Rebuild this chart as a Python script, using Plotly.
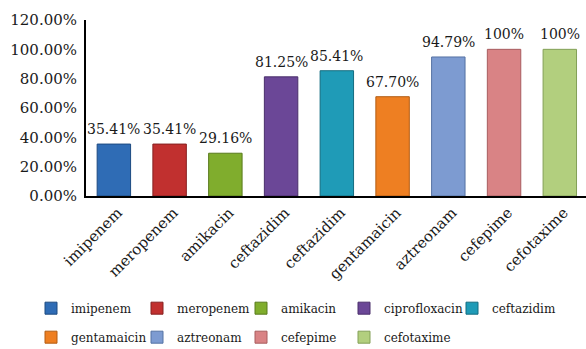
import plotly.graph_objects as go

legend_names = ["imipenem", "meropenem", "amikacin", "ciprofloxacin", "ceftazidim",
                "gentamaicin", "aztreonam", "cefepime", "cefotaxime"]
tick_labels = ["imipenem", "meropenem", "amikacin", "ceftazidim", "ceftazidim",
               "gentamaicin", "aztreonam", "cefepime", "cefotaxime"]
values = [35.41, 35.41, 29.16, 81.25, 85.41, 67.70, 94.79, 100, 100]
value_labels = ["35.41%", "35.41%", "29.16%", "81.25%", "85.41%", "67.70%", "94.79%", "100%", "100%"]
colors = ["#2f6cb5", "#c1302f", "#80ad2d", "#6b4797", "#1f9bb7",
          "#ee7f22", "#7d9bd1", "#d98385", "#b2cf7e"]
edge_colors = ["#1d4a80", "#862020", "#587a1c", "#4a2f6b", "#136c80",
               "#b35c12", "#5572a3", "#a85c5e", "#83a057"]
y_ticks = [0, 20, 40, 60, 80, 100, 120]
legend_col_widths = [61, 59, 58, 63, 60]

positions = list(range(len(values)))
serif = "DejaVu Serif"

fig = go.Figure()
for i, name in enumerate(legend_names):
    fig.add_trace(go.Bar(
        x=[positions[i]], y=[values[i]], name=name, width=0.6,
        legendgroup=name, legendwidth=legend_col_widths[i % 5],
        marker=dict(color=colors[i], line=dict(color=edge_colors[i], width=1)),
    ))

for i in positions:
    fig.add_annotation(x=positions[i], y=values[i], text=value_labels[i],
                       showarrow=False, yanchor="bottom", yshift=5,
                       font=dict(family=serif, size=14, color="#1a1a1a"))

fig.update_layout(
    width=586, height=349,
    margin=dict(l=86, r=0, t=20, b=153, autoexpand=False),
    plot_bgcolor="white", paper_bgcolor="white",
    barmode="overlay",
    showlegend=True,
    legend=dict(orientation="h", x=-0.11, xanchor="left", y=-0.555, yanchor="top",
                tracegroupgap=10,
                font=dict(family=serif, size=12, color="#1a1a1a"),
                bgcolor="rgba(0,0,0,0)"),
    xaxis=dict(range=[-0.5, 8.47], tickmode="array", tickvals=positions, ticktext=tick_labels,
               tickangle=-45, showgrid=False, zeroline=False,
               showline=True, linecolor="black", linewidth=2,
               ticks="", ticklabelshift=4,
               tickfont=dict(family=serif, size=15, color="#1a1a1a")),
    yaxis=dict(range=[0, 120], tickmode="array", tickvals=y_ticks,
               ticktext=[f"{v:.2f}%" for v in y_ticks],
               showgrid=False, zeroline=False,
               showline=True, linecolor="black", linewidth=2,
               ticks="", ticklabelstandoff=4,
               tickfont=dict(family=serif, size=15, color="#1a1a1a")),
)

fig.write_html("out.html")
